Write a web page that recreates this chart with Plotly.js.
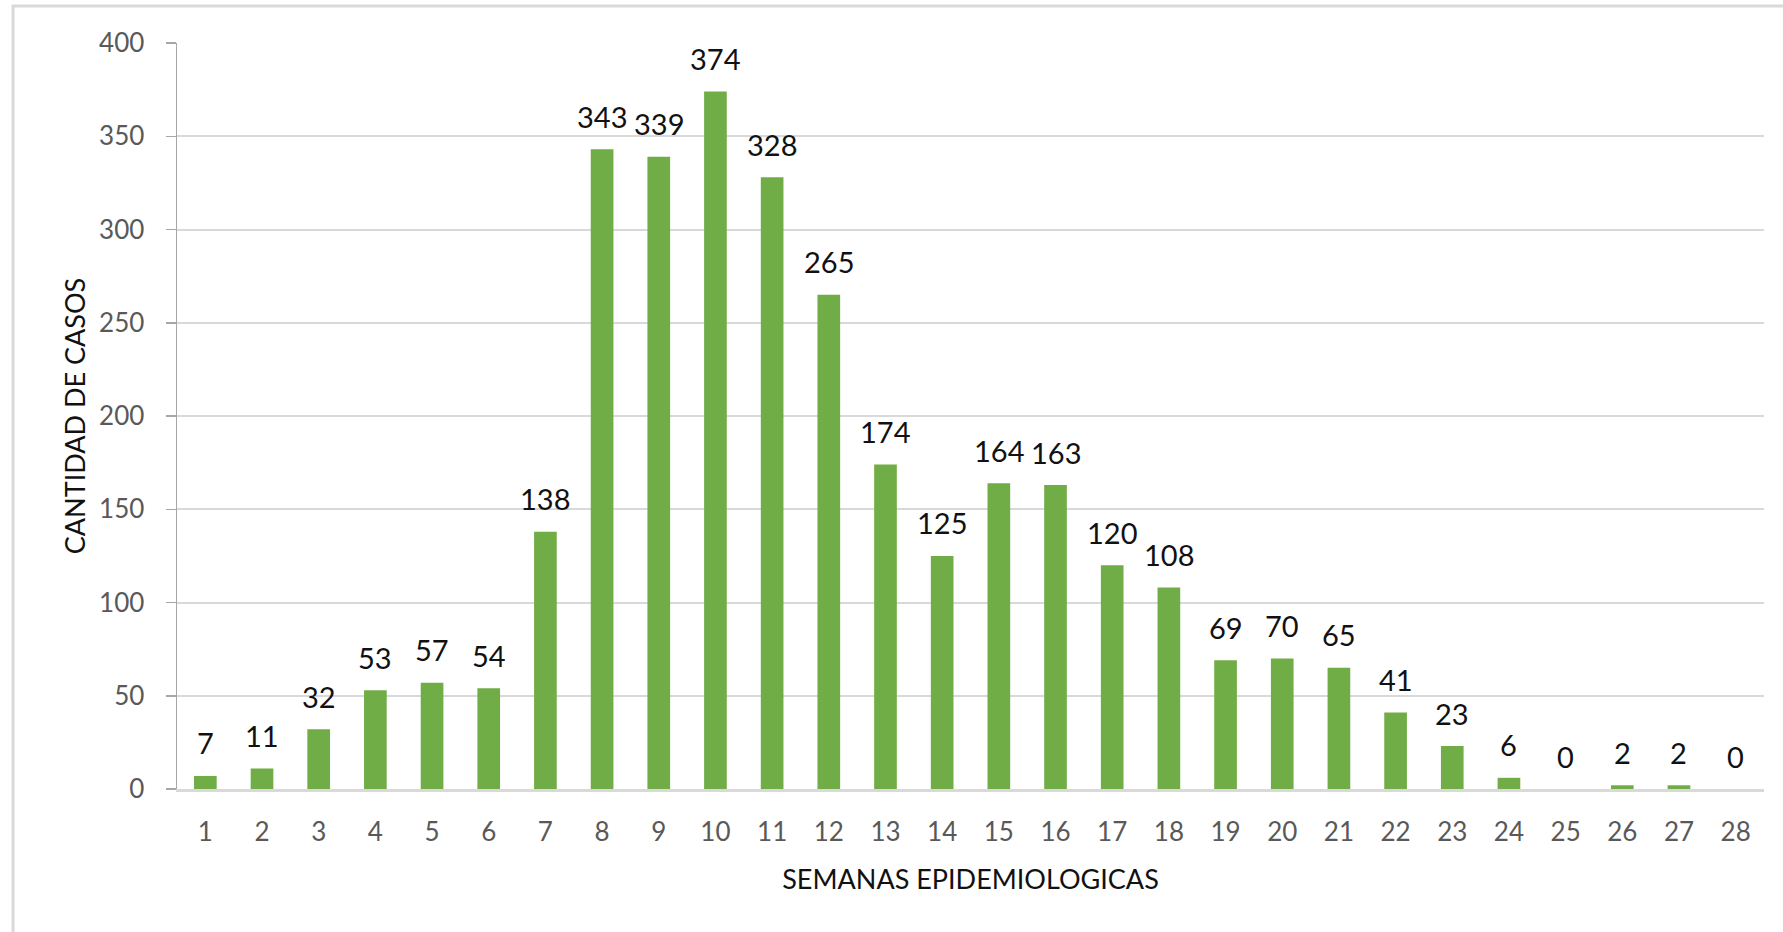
<!DOCTYPE html>
<html>
<head>
<meta charset="utf-8">
<script src="https://cdn.plot.ly/plotly-3.0.1.min.js"></script>
<style>html,body{margin:0;padding:0;background:#fff;}#chart{width:1783px;height:932px;}</style>
</head>
<body>
<div id="chart"></div>
<script>
const weeks = ['1','2','3','4','5','6','7','8','9','10','11','12','13','14','15','16','17','18','19','20','21','22','23','24','25','26','27','28'];
const cases = [7,11,32,53,57,54,138,343,339,374,328,265,174,125,164,163,120,108,69,70,65,41,23,6,0,2,2,0];
const yTicks = [0,50,100,150,200,250,300,350,400];
const xTitle = 'SEMANAS EPIDEMIOLOGICAS';
const yTitle = 'CANTIDAD DE CASOS';

const FONT = 'Lato, Carlito, Calibri, sans-serif';

const trace = {
  type: 'bar',
  x: weeks,
  y: cases,
  marker: {color: '#70AD47'},
  hoverinfo: 'x+y'
};

// on a category axis, annotation x is the category index
const labels = weeks.map((w, i) => ({
  x: i, y: cases[i], xref: 'x', yref: 'y',
  text: String(cases[i]), showarrow: false,
  yanchor: 'middle', yshift: 33,
  font: {family: FONT, size: 29, color: '#111111'}
}));

const layout = {
  width: 1783, height: 932,
  margin: {l: 177, r: 19, t: 43, b: 143},
  paper_bgcolor: '#ffffff', plot_bgcolor: '#ffffff',
  bargap: 0.6,
  showlegend: false,
  font: {family: FONT},
  xaxis: {
    type: 'category',
    range: [-0.5, weeks.length - 0.5],
    showgrid: false,
    showline: true, linecolor: '#D9D9D9', linewidth: 2.5,
    ticks: '',
    tickfont: {family: FONT, size: 26, color: '#595959'},
    ticklabelstandoff: 18,
    title: {text: xTitle, font: {family: FONT, size: 27, color: '#111111'}, standoff: 25},
    automargin: false,
    zeroline: false
  },
  yaxis: {
    range: [0, 400],
    tickvals: yTicks,
    ticktext: yTicks.map(String),
    showgrid: true, gridcolor: '#D9D9D9', gridwidth: 2,
    showline: true, linecolor: '#A6A6A6', linewidth: 1.5,
    ticks: 'outside', ticklen: 10, tickcolor: '#A6A6A6', tickwidth: 1.5,
    tickfont: {family: FONT, size: 26, color: '#595959'},
    ticklabelstandoff: 16,
    zeroline: false,
    title: {text: yTitle, font: {family: FONT, size: 27, color: '#111111'}, standoff: 5},
    automargin: false
  },
  annotations: labels,
  shapes: [{
    type: 'rect', xref: 'paper', yref: 'paper',
    x0: -0.1033, x1: 1.03, y0: -0.25, y1: 1.0496,
    line: {color: '#D9D9D9', width: 3}, fillcolor: 'rgba(0,0,0,0)', layer: 'below'
  }]
};

Plotly.newPlot('chart', [trace], layout, {displayModeBar: false, staticPlot: true});
</script>
</body>
</html>
